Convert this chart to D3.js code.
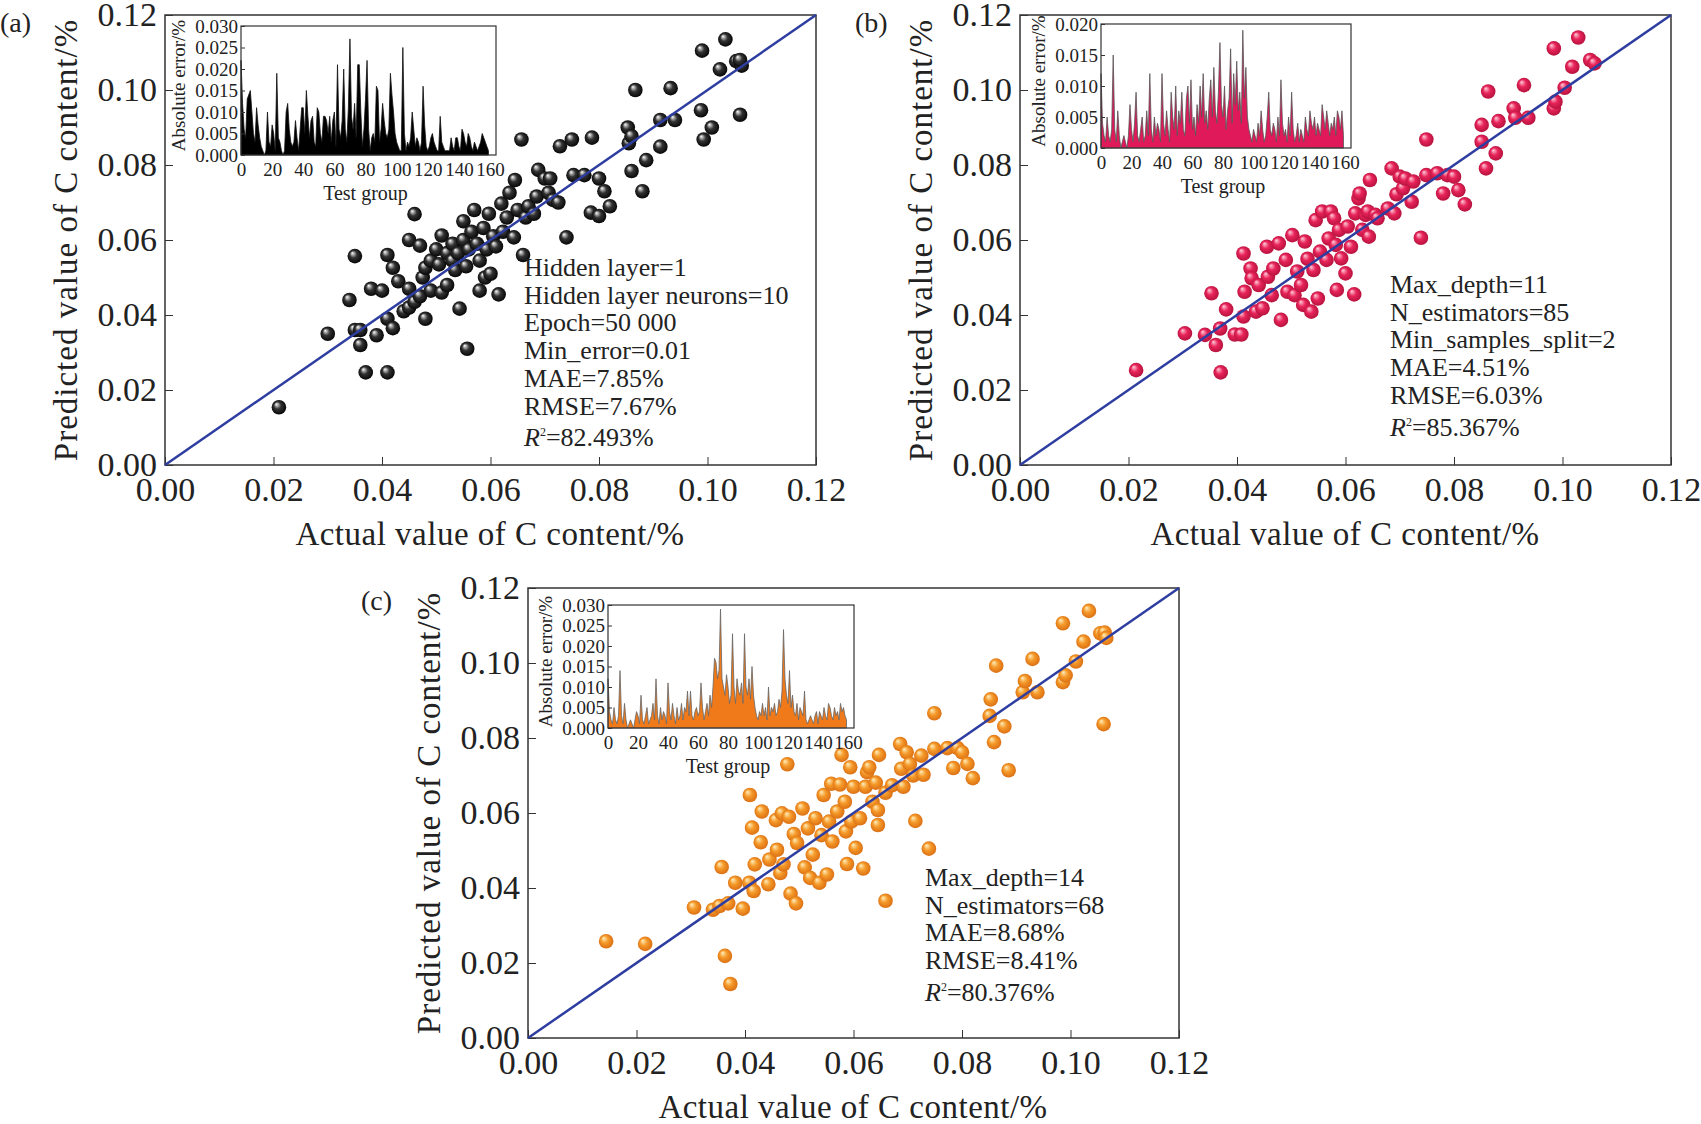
<!DOCTYPE html>
<html><head><meta charset="utf-8">
<script src="https://cdn.jsdelivr.net/npm/d3@7"></script>
<style>body{margin:0;background:#fff}text{font-family:"Liberation Serif","Times New Roman",serif;fill:#222}</style>
</head><body><svg id="chart" width="1701" height="1124"></svg>
<script>
// scatter points, [actual, predicted]
var pointsA = [[0.021,0.0154],[0.030,0.035],[0.034,0.044],[0.035,0.0557],[0.035,0.036],[0.036,0.036],[0.036,0.032],[0.037,0.0247],[0.038,0.047],[0.039,0.0346],[0.041,0.0247],[0.041,0.056],[0.040,0.0465],[0.041,0.039],[0.042,0.0365],[0.042,0.0526],[0.043,0.049],[0.044,0.041],[0.045,0.042],[0.045,0.047],[0.045,0.060],[0.046,0.0669],[0.046,0.0435],[0.047,0.045],[0.047,0.0585],[0.0475,0.050],[0.048,0.039],[0.048,0.0526],[0.049,0.0545],[0.049,0.0465],[0.050,0.0575],[0.051,0.0612],[0.0505,0.0535],[0.051,0.046],[0.052,0.048],[0.052,0.0565],[0.053,0.059],[0.053,0.0545],[0.0535,0.052],[0.054,0.0565],[0.0543,0.0417],[0.055,0.065],[0.055,0.060],[0.0555,0.053],[0.0557,0.031],[0.056,0.0575],[0.0565,0.0622],[0.057,0.068],[0.0575,0.059],[0.058,0.0545],[0.058,0.0465],[0.0587,0.0632],[0.059,0.050],[0.0593,0.0575],[0.0597,0.067],[0.060,0.051],[0.0605,0.061],[0.061,0.0583],[0.0615,0.0455],[0.062,0.0697],[0.0623,0.0622],[0.063,0.066],[0.0635,0.0726],[0.0643,0.0607],[0.0645,0.076],[0.065,0.068],[0.0657,0.0868],[0.066,0.056],[0.0665,0.066],[0.067,0.069],[0.068,0.067],[0.0685,0.0716],[0.0688,0.0787],[0.070,0.0764],[0.0707,0.0726],[0.071,0.0764],[0.0715,0.0707],[0.0725,0.070],[0.0728,0.085],[0.074,0.0607],[0.075,0.0868],[0.0753,0.0773],[0.0773,0.0773],[0.0787,0.0873],[0.0785,0.0673],[0.080,0.0764],[0.080,0.0664],[0.081,0.073],[0.082,0.069],[0.0853,0.090],[0.0855,0.0858],[0.086,0.0877],[0.086,0.0784],[0.0867,0.100],[0.088,0.073],[0.0887,0.0813],[0.0913,0.0849],[0.0913,0.092],[0.0932,0.1005],[0.094,0.092],[0.0988,0.0946],[0.0993,0.0868],[0.099,0.1105],[0.1008,0.090],[0.1023,0.1055],[0.1033,0.1135],[0.1053,0.1077],[0.106,0.0934],[0.1063,0.1065],[0.106,0.108]];
var pointsB = [[0.0214,0.0253],[0.0304,0.0351],[0.0341,0.0347],[0.0353,0.0458],[0.0361,0.032],[0.0369,0.0364],[0.037,0.0247],[0.038,0.0415],[0.0396,0.0348],[0.0408,0.0348],[0.0412,0.0564],[0.0412,0.0396],[0.0414,0.0462],[0.0425,0.0524],[0.0427,0.0498],[0.0435,0.0409],[0.044,0.048],[0.0447,0.0418],[0.0455,0.0582],[0.0457,0.0502],[0.0464,0.0453],[0.0467,0.0524],[0.0477,0.0591],[0.0481,0.0387],[0.049,0.0547],[0.0493,0.0462],[0.0502,0.0613],[0.0506,0.0453],[0.0511,0.0516],[0.0518,0.048],[0.0522,0.0427],[0.0525,0.0596],[0.053,0.055],[0.0537,0.0409],[0.0541,0.052],[0.0545,0.0653],[0.0549,0.0444],[0.0553,0.0569],[0.0557,0.0676],[0.0565,0.0547],[0.0569,0.0604],[0.0573,0.0676],[0.0579,0.0658],[0.0582,0.0587],[0.0584,0.0467],[0.0588,0.0627],[0.0592,0.0551],[0.06,0.0511],[0.0604,0.0636],[0.061,0.0582],[0.0616,0.0455],[0.0618,0.0671],[0.0624,0.0711],[0.0626,0.0724],[0.0631,0.0627],[0.0637,0.0667],[0.0641,0.0676],[0.0643,0.0609],[0.0645,0.076],[0.0655,0.0667],[0.0659,0.0658],[0.0678,0.0684],[0.0685,0.0791],[0.069,0.0671],[0.0694,0.0722],[0.07,0.0769],[0.0706,0.0738],[0.071,0.0764],[0.0722,0.0702],[0.0725,0.0756],[0.0739,0.0606],[0.0749,0.0868],[0.0749,0.0773],[0.0769,0.0778],[0.078,0.0724],[0.0788,0.0773],[0.08,0.0769],[0.0808,0.0733],[0.082,0.0695],[0.0851,0.0907],[0.0851,0.0862],[0.0859,0.0791],[0.0863,0.0996],[0.0877,0.0831],[0.0882,0.0917],[0.091,0.0951],[0.0913,0.0926],[0.0929,0.1013],[0.0937,0.0926],[0.0984,0.0951],[0.0987,0.0969],[0.0984,0.1111],[0.1004,0.1006],[0.1018,0.1062],[0.1029,0.114],[0.1051,0.108],[0.1059,0.1071]];
var pointsC = [[0.0144,0.0258],[0.0216,0.0251],[0.0306,0.0348],[0.0341,0.0342],[0.0353,0.0352],[0.0357,0.0456],[0.0363,0.0219],[0.0369,0.0359],[0.0373,0.0144],[0.0382,0.0414],[0.0396,0.0345],[0.0408,0.0414],[0.0409,0.0648],[0.0413,0.0561],[0.0416,0.0392],[0.0418,0.0463],[0.0429,0.0522],[0.0431,0.0604],[0.0443,0.041],[0.0445,0.0476],[0.0457,0.0581],[0.0459,0.0502],[0.0465,0.044],[0.0468,0.0599],[0.0471,0.0463],[0.0478,0.073],[0.0481,0.059],[0.0484,0.0385],[0.049,0.0544],[0.0494,0.0359],[0.0496,0.052],[0.0506,0.0612],[0.051,0.0455],[0.0516,0.0559],[0.052,0.0427],[0.0525,0.0489],[0.053,0.0586],[0.0537,0.0414],[0.0541,0.0541],[0.0545,0.0648],[0.0551,0.0436],[0.0555,0.0577],[0.0559,0.0678],[0.0561,0.0524],[0.057,0.0604],[0.0575,0.0676],[0.0578,0.0755],[0.0584,0.063],[0.0586,0.0551],[0.0588,0.0464],[0.0594,0.0722],[0.0596,0.0577],[0.06,0.067],[0.0604,0.0507],[0.0612,0.0586],[0.0618,0.0452],[0.0622,0.067],[0.0625,0.0709],[0.0629,0.0722],[0.0635,0.063],[0.0641,0.0681],[0.0645,0.0568],[0.0647,0.0755],[0.0645,0.0608],[0.0659,0.0654],[0.0659,0.0366],[0.0671,0.0674],[0.0686,0.0784],[0.0688,0.0718],[0.0692,0.067],[0.0698,0.0762],[0.0704,0.0731],[0.071,0.07],[0.0714,0.0579],[0.0725,0.0753],[0.0729,0.0702],[0.0739,0.0505],[0.0749,0.0866],[0.0749,0.0771],[0.0773,0.0773],[0.0784,0.072],[0.0792,0.0773],[0.08,0.0762],[0.081,0.0731],[0.082,0.0693],[0.0851,0.0859],[0.0853,0.0903],[0.0859,0.0789],[0.0863,0.0993],[0.0878,0.0831],[0.0886,0.0714],[0.0912,0.0922],[0.0916,0.0952],[0.093,0.1011],[0.0939,0.0922],[0.0986,0.0949],[0.0991,0.0967],[0.0986,0.1106],[0.101,0.1004],[0.1024,0.1057],[0.1034,0.1139],[0.1055,0.1079],[0.1063,0.1081],[0.1061,0.0837],[0.1066,0.1067]];

// absolute error per test group, in units of 0.001 %
var errorA = [22,12,6,4,13,14,15,10,5,3, 11,7,4,2,1,0,1,10,3,2, 7,5,1,19,4,3,1,0,1,10, 12,6,3,2,3,8,4,1,6,11,
  11,5,15,9,4,8,9,3,2,11, 10,5,3,9,9,8,5,9,3,8, 10,2,21,6,4,8,20,6,3,11, 27,9,6,12,4,21,21,10,2,6,
  13,22,6,1,4,5,3,16,15,3, 6,12,8,5,4,6,19,14,10,5, 3,2,1,1,25,5,1,3,2,4, 10,6,2,4,3,1,3,16,7,2,
  1,2,4,5,3,2,1,1,9,3, 2,1,1,1,1,4,2,1,4,4, 2,1,6,5,3,2,5,4,2,1, 3,2,1,2,3,5,4,3,2,1];
var errorB = [12,4,2,1,5,2,1,3,15,3, 1,6,2,0,1,2,1,0,2,7, 3,1,4,9,2,1,3,5,1,2, 6,2,12,3,1,5,2,4,3,1, 12,4,2,6,3,1,9,5,3,10,
  2,6,4,9,3,2,8,10,4,11, 3,5,2,7,4,10,5,12,4,6, 3,8,11,5,13,6,4,9,17,7, 5,10,3,6,8,16,4,12,7,14,
  6,9,4,19,8,13,5,3,2,1, 3,2,1,4,2,6,3,1,2,5, 9,3,2,4,3,1,5,2,11,4, 2,3,1,5,2,9,3,1,2,4, 1,3,2,1,5,3,2,6,4,3, 5,2,4,3,2,7,5,3,6,4, 2,4,3,5,2,6,5,3,6,2];
var errorC = [12,4,2,1,5,2,1,3,14,3, 1,6,2,0,1,2,1,0,2,4, 3,1,8,2,1,3,5,1,2,3, 6,2,12,3,1,5,2,4,3,1, 11,4,2,6,3,1,5,2,3,6,
  2,5,4,9,3,9,3,2,4,5, 3,4,11,5,2,4,6,3,8,5, 10,17,16,12,14,29,12,10,8,13, 10,6,8,23,10,6,12,9,8,11, 6,23,10,8,12,7,15,8,5,3,
  2,4,3,6,3,5,2,10,3,5, 4,6,3,4,7,5,9,24,12,8, 6,14,5,8,4,3,6,2,5,4, 3,9,2,1,2,3,2,1,3,4, 1,4,3,2,5,3,2,6,5,3, 2,5,3,4,2,6,4,5,3,2];

var annA = ['Hidden layer=1','Hidden layer neurons=10','Epoch=50 000','Min_error=0.01','MAE=7.85%','RMSE=7.67%'];
var annB = ['Max_depth=11','N_estimators=85','Min_samples_split=2','MAE=4.51%','RMSE=6.03%'];
var annC = ['Max_depth=14','N_estimators=68','MAE=8.68%','RMSE=8.41%'];
var r2 = ['82.493%','85.367%','80.376%'];
var mainTicks = [0,0.02,0.04,0.06,0.08,0.10,0.12];
var groupTicks = [0,20,40,60,80,100,120,140,160];

var svg = d3.select('#chart');
var defs = svg.append('defs');
function sphere(id, light, mid, dark) {
    var g = defs.append('radialGradient').attr('id', id)
        .attr('cx', '50%').attr('cy', '50%').attr('r', '55%').attr('fx', '32%').attr('fy', '28%');
    g.append('stop').attr('offset', '0%').attr('stop-color', light);
    g.append('stop').attr('offset', '45%').attr('stop-color', mid);
    g.append('stop').attr('offset', '100%').attr('stop-color', dark);
}
sphere('gA', '#ffffff', '#333', '#000');
sphere('gB', '#ffd0dc', '#e8245a', '#b0103a');
sphere('gC', '#fff0c0', '#f59a2a', '#d86a10');

function panel(o) {
    var x = d3.scaleLinear().domain([0, 0.12]).range([o.left, o.left + 651]);
    var y = d3.scaleLinear().domain([0, 0.12]).range([o.top + 450, o.top]);
    var g = svg.append('g');
    g.append('rect').attr('x', o.left).attr('y', o.top).attr('width', 651).attr('height', 450)
        .attr('fill', 'none').attr('stroke', '#333').attr('stroke-width', 1.5);
    g.append('g').attr('transform', 'translate(0,' + (o.top + 450) + ')')
        .call(d3.axisBottom(x).tickValues(mainTicks).tickFormat(d3.format('.2f')).tickSizeInner(-8).tickSizeOuter(0).tickPadding(12))
        .call(function (a) { a.select('.domain').remove(); a.selectAll('text').style('font-size', '34px'); a.selectAll('line').attr('stroke', '#333'); });
    g.append('g').attr('transform', 'translate(' + o.left + ',0)')
        .call(d3.axisLeft(y).tickValues(mainTicks).tickFormat(d3.format('.2f')).tickSizeInner(-8).tickSizeOuter(0).tickPadding(8))
        .call(function (a) { a.select('.domain').remove(); a.selectAll('text').style('font-size', '34px'); a.selectAll('line').attr('stroke', '#333'); });
    g.append('text').attr('x', o.left + 325).attr('y', o.top + 530).attr('text-anchor', 'middle')
        .style('font-size', '33px').style('letter-spacing', '0.5px').text('Actual value of C content/%');
    g.append('text').attr('transform', 'translate(' + (o.left - 88) + ',' + (o.top + 225) + ') rotate(-90)')
        .attr('text-anchor', 'middle').style('font-size', '33px').style('letter-spacing', '1px').text('Predicted value of C content/%');
    g.append('text').attr('x', o.lx).attr('y', o.ly).style('font-size', '28px').text(o.letter);
    g.selectAll('circle.pt').data(o.points).enter().append('circle')
        .attr('cx', function (d) { return x(d[0]); })
        .attr('cy', function (d) { return y(d[1]); })
        .attr('r', 7.3).attr('fill', 'url(#' + o.grad + ')');
    g.append('line').attr('x1', x(0)).attr('y1', y(0)).attr('x2', x(0.12)).attr('y2', y(0.12))
        .attr('stroke', '#2e3da0').attr('stroke-width', 2.5);
    o.ann.forEach(function (t, i) {
        g.append('text').attr('x', o.ax).attr('y', o.ay + i * 27.7).style('font-size', '26px').text(t);
    });
    var rt = g.append('text').attr('x', o.ax).attr('y', o.ay + o.ann.length * 27.7 + 4).style('font-size', '26px');
    rt.append('tspan').style('font-style', 'italic').text('R');
    rt.append('tspan').attr('dy', -10).style('font-size', '12px').text('2');
    rt.append('tspan').attr('dy', 10).text('=' + o.r2);

    // inset
    var ix = d3.scaleLinear().domain([0, 160]).range([o.il, o.ir]);
    var iy = d3.scaleLinear().domain([0, o.imax]).range([o.ib, o.it]);
    var area = d3.area().x(function (d, i) { return ix(i); }).y0(iy(0)).y1(function (d) { return iy(d / 1000); });
    var ig = g.append('g');
    ig.append('rect').attr('x', o.il - 2).attr('y', o.it - 6).attr('width', o.ir - o.il + 8).attr('height', o.ib - o.it + 6).attr('fill', '#fff');
    ig.append('path').datum(o.err).attr('d', area).attr('fill', o.fill).attr('stroke', o.stroke).attr('stroke-width', 0.8);
    ig.append('rect').attr('x', o.il).attr('y', o.it).attr('width', o.ir - o.il + 6).attr('height', o.ib - o.it)
        .attr('fill', 'none').attr('stroke', '#333').attr('stroke-width', 1.2);
    ig.append('g').attr('transform', 'translate(0,' + o.ib + ')')
        .call(d3.axisBottom(ix).tickValues(groupTicks).tickSize(0).tickPadding(8))
        .call(function (a) { a.select('.domain').remove(); a.selectAll('text').style('font-size', '19px'); });
    ig.append('g').attr('transform', 'translate(' + o.il + ',0)')
        .call(d3.axisLeft(iy).ticks(6).tickFormat(d3.format('.3f')).tickSizeInner(-4).tickSizeOuter(0).tickPadding(3))
        .call(function (a) { a.select('.domain').remove(); a.selectAll('text').style('font-size', '19px'); a.selectAll('line').attr('stroke', '#333'); });
    ig.append('text').attr('x', (o.il + o.ir) / 2).attr('y', o.ib + 45).attr('text-anchor', 'middle')
        .style('font-size', '20px').text('Test group');
    ig.append('text').attr('transform', 'translate(' + (o.il - 56) + ',' + ((o.it + o.ib) / 2 - 5) + ') rotate(-90)')
        .attr('text-anchor', 'middle').style('font-size', '19px').text('Absolute error/%');
}

panel({left: 165, top: 15, points: pointsA, grad: 'gA', ann: annA, r2: r2[0], ax: 524, ay: 276,
    letter: '(a)', lx: 0, ly: 32, err: errorA, imax: 0.030, fill: '#000', stroke: '#111',
    il: 241, ir: 490, it: 26, ib: 155});
panel({left: 1020, top: 15, points: pointsB, grad: 'gB', ann: annB, r2: r2[1], ax: 1390, ay: 293,
    letter: '(b)', lx: 855, ly: 32, err: errorB, imax: 0.020, fill: '#e0195a', stroke: '#555',
    il: 1101, ir: 1345, it: 24, ib: 148});
panel({left: 528, top: 588, points: pointsC, grad: 'gC', ann: annC, r2: r2[2], ax: 925, ay: 886,
    letter: '(c)', lx: 361, ly: 610, err: errorC, imax: 0.030, fill: '#f07a1a', stroke: '#666',
    il: 608, ir: 848, it: 605, ib: 728});
</script></body></html>
